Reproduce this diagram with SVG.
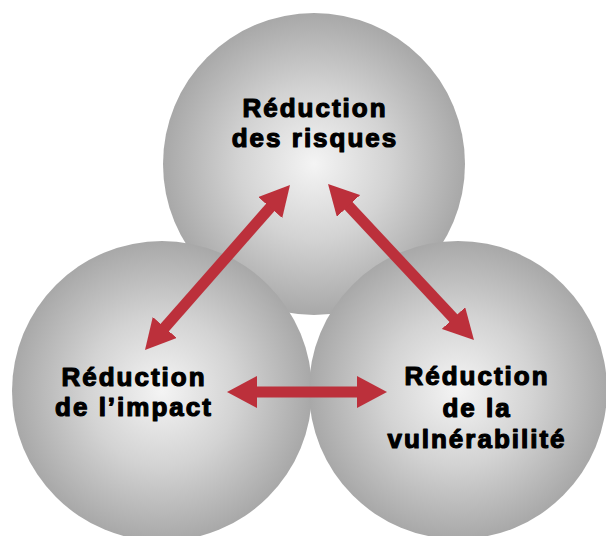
<svg xmlns="http://www.w3.org/2000/svg" width="606" height="536" viewBox="0 0 606 536">
<defs>
<radialGradient id="sphere" cx="0.5" cy="0.5" r="0.5">
<stop offset="0" stop-color="#f4f4f4"/>
<stop offset="0.5" stop-color="#d3d3d3"/>
<stop offset="1" stop-color="#a8a8a8"/>
</radialGradient>
<marker id="head" markerUnits="userSpaceOnUse" markerWidth="30" markerHeight="32" refX="10" refY="16" orient="auto-start-reverse" viewBox="0 0 30 32">
<path d="M0,0 L30,16 L0,32 z" fill="#bc303b"/>
</marker>
</defs>
<style>
.ball{fill:url(#sphere);}
.lbl{font-family:"Liberation Sans",Arial,sans-serif;font-weight:bold;font-size:26px;letter-spacing:2px;fill:#000;stroke:#000;stroke-width:1.2;stroke-linejoin:round;text-anchor:middle;}
.conn{stroke:#bc303b;stroke-width:11;fill:none;marker-start:url(#head);marker-end:url(#head);}
</style>
<g id="node-risques">
<circle class="ball" cx="314" cy="164" r="151"/>
<text class="lbl" x="315" y="117">Réduction</text>
<text class="lbl" x="315" y="147">des risques</text>
</g>
<g id="node-impact">
<circle class="ball" cx="162" cy="391" r="150"/>
<text class="lbl" x="134" y="386">Réduction</text>
<text class="lbl" x="134" y="416">de l’impact</text>
</g>
<g id="node-vulnerabilite">
<circle class="ball" cx="458" cy="390" r="149"/>
<text class="lbl" x="477" y="385">Réduction</text>
<text class="lbl" x="477" y="417">de la</text>
<text class="lbl" x="477" y="448">vulnérabilité</text>
</g>
<g id="connectors">
<line class="conn" x1="158.2" y1="335" x2="276.8" y2="200"/>
<line class="conn" x1="341.7" y1="198.6" x2="460.3" y2="325.4"/>
<line class="conn" x1="247" y1="392" x2="367" y2="392"/>
</g>
</svg>
